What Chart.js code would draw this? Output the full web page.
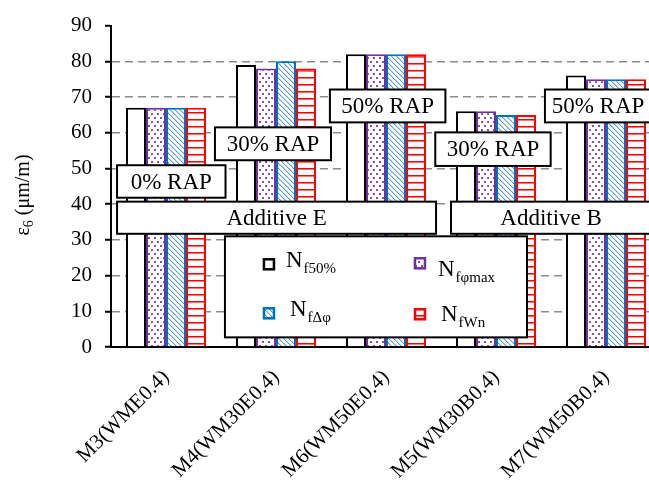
<!DOCTYPE html>
<html>
<head>
<meta charset="utf-8">
<script src="https://cdn.jsdelivr.net/npm/chart.js@4.4.1/dist/chart.umd.min.js"></script>
<style>
  html, body { margin: 0; padding: 0; background: #fff; overflow: hidden; }
  #wrap { width: 649px; height: 489px; overflow: hidden; position: relative; }
  canvas { display: block; }
</style>
</head>
<body>
<div id="wrap"><canvas id="c" width="680" height="489"></canvas></div>
<script>
// ---- data ----
const mixtures = ['M3(WME0.4)', 'M4(WM30E0.4)', 'M6(WM50E0.4)', 'M5(WM30B0.4)', 'M7(WM50B0.4)'];
const nf50      = [67, 79, 82, 66, 76];
const nfPhiMax  = [67, 78, 82, 66, 75];
const nfDeltaPhi= [67, 80, 82, 65, 75];
const nfWn      = [67, 78, 82, 65, 75];
const seriesSubscripts = ['f50%', 'fφmax', 'fΔφ', 'fWn'];
const yMin = 0, yMax = 90, yStep = 10;
const rapTexts = ['0% RAP', '30% RAP', '50% RAP', '30% RAP', '50% RAP'];
const additiveTexts = ['Additive E', 'Additive B'];

const SERIF = "'Liberation Serif', 'Times New Roman', serif";

// ---- fill patterns ----
function makePattern(w, h, draw) {
  const c = document.createElement('canvas');
  c.width = w; c.height = h;
  const g = c.getContext('2d');
  g.fillStyle = '#fff';
  g.fillRect(0, 0, w, h);
  draw(g);
  return g.createPattern(c, 'repeat');
}
const dotFill = makePattern(6, 8, g => {
  g.fillStyle = 'rgba(112,48,160,0.85)';
  g.fillRect(1, 1, 2, 2);
  g.fillRect(4, 5, 2, 2);
});
const diagFill = makePattern(5, 5, g => {
  for (let i = 0; i < 5; i++) {
    g.fillStyle = '#5B9BD5';
    g.fillRect(i, i, 1, 1);
    g.fillStyle = 'rgba(91,155,213,0.35)';
    g.fillRect((i + 1) % 5, i, 1, 1);
  }
});
const stripeFill = makePattern(4, 7, g => {
  g.fillStyle = '#FF0000';
  g.fillRect(0, 0, 4, 1);
  g.fillStyle = 'rgba(255,0,0,0.55)';
  g.fillRect(0, 1, 4, 1);
});

// ---- overlay: text boxes, legend panel, y-axis title ----
// box anchors in category-index / value units
const textBoxes = [
  { text: rapTexts[0], x0: -0.445, x1: 0.541, yTop: 50.9, yBot: 41.8 },
  { text: rapTexts[1], x0: 0.445,  x1: 1.50,  yTop: 61.5, yBot: 52.3 },
  { text: rapTexts[2], x0: 1.49,   x1: 2.54,  yTop: 72.1, yBot: 62.9 },
  { text: rapTexts[3], x0: 2.448,  x1: 3.497, yTop: 60.1, yBot: 50.7 },
  { text: rapTexts[4], x0: 3.445,  x1: 4.41,  yTop: 72.1, yBot: 62.9 },
  { text: additiveTexts[0], x0: -0.445, x1: 2.455, yTop: 40.7, yBot: 31.7 },
  { text: additiveTexts[1], x0: 2.591,  x1: 4.41,  yTop: 40.7, yBot: 31.7 }
];
const legendBox = { x0: 0.536, x1: 3.282, yTop: 31.0, yBot: 2.7 };
// item offsets inside the legend panel: icon corner, text start, baseline
const legendItems = [
  { ix: 38,  iy: 22, tx: 61,  ty: 31 },
  { ix: 189, iy: 21, tx: 213, ty: 40 },
  { ix: 38,  iy: 71, tx: 65,  ty: 80 },
  { ix: 189, iy: 72, tx: 216, ty: 85 }
];

const overlay = {
  id: 'overlay',
  afterDatasetsDraw(chart) {
    const ctx = chart.ctx;
    const xs = chart.scales.x, ys = chart.scales.y;
    ctx.save();
    // annotation boxes
    textBoxes.forEach(b => {
      const l = xs.getPixelForValue(b.x0), r = xs.getPixelForValue(b.x1);
      const t = ys.getPixelForValue(b.yTop), bt = ys.getPixelForValue(b.yBot);
      ctx.fillStyle = '#fff';
      ctx.fillRect(l, t, r - l, bt - t);
      ctx.strokeStyle = '#000';
      ctx.lineWidth = 2;
      ctx.strokeRect(l, t, r - l, bt - t);
      ctx.fillStyle = '#000';
      ctx.font = '23px ' + SERIF;
      ctx.textAlign = 'center';
      ctx.textBaseline = 'middle';
      ctx.fillText(b.text, (l + r) / 2, (t + bt) / 2 + 1);
    });
    // legend panel
    const L = xs.getPixelForValue(legendBox.x0), R = xs.getPixelForValue(legendBox.x1);
    const T = ys.getPixelForValue(legendBox.yTop), B = ys.getPixelForValue(legendBox.yBot);
    ctx.fillStyle = '#fff';
    ctx.fillRect(L, T, R - L, B - T);
    ctx.strokeStyle = '#000';
    ctx.lineWidth = 2;
    ctx.strokeRect(L, T, R - L, B - T);
    chart.data.datasets.forEach((ds, i) => {
      const it = legendItems[i];
      ctx.fillStyle = ds.backgroundColor;
      ctx.fillRect(L + it.ix, T + it.iy, 12, 12);
      ctx.strokeStyle = ds.borderColor;
      ctx.lineWidth = 2.5;
      ctx.strokeRect(L + it.ix + 1, T + it.iy + 1, 10, 10);
      ctx.fillStyle = '#000';
      ctx.textAlign = 'left';
      ctx.textBaseline = 'alphabetic';
      ctx.font = '23px ' + SERIF;
      ctx.fillText('N', L + it.tx, T + it.ty);
      const nW = ctx.measureText('N').width;
      ctx.font = '15px ' + SERIF;
      ctx.fillText(seriesSubscripts[i], L + it.tx + nW + 1, T + it.ty + 6);
    });
    ctx.restore();
  },
  afterDraw(chart) {
    // y-axis title: ε with subscript 6, then unit
    const ctx = chart.ctx;
    ctx.save();
    ctx.translate(24, 195);
    ctx.rotate(-Math.PI / 2);
    ctx.fillStyle = '#000';
    ctx.textBaseline = 'middle';
    ctx.textAlign = 'left';
    const main = '20px ' + SERIF, sub = '14px ' + SERIF;
    ctx.font = main; const w1 = ctx.measureText('ε').width;
    ctx.font = sub;  const w2 = ctx.measureText('6').width;
    ctx.font = main; const w3 = ctx.measureText(' (μm/m)').width;
    let x = -(w1 + w2 + w3) / 2;
    ctx.font = main; ctx.fillText('ε', x, 0); x += w1;
    ctx.font = sub;  ctx.fillText('6', x, 5); x += w2;
    ctx.font = main; ctx.fillText(' (μm/m)', x, 0);
    ctx.restore();
  }
};

new Chart(document.getElementById('c'), {
  type: 'bar',
  data: {
    labels: mixtures,
    datasets: [
      { label: 'N' + seriesSubscripts[0], data: nf50,       backgroundColor: '#ffffff', borderColor: '#000000' },
      { label: 'N' + seriesSubscripts[1], data: nfPhiMax,   backgroundColor: dotFill,   borderColor: '#7030A0' },
      { label: 'N' + seriesSubscripts[2], data: nfDeltaPhi, backgroundColor: diagFill,  borderColor: '#0070C0' },
      { label: 'N' + seriesSubscripts[3], data: nfWn,       backgroundColor: stripeFill, borderColor: '#FF0000' }
    ]
  },
  options: {
    responsive: false,
    animation: false,
    devicePixelRatio: 1,
    layout: { padding: { top: 22, right: 19, left: 0, bottom: 0 } },
    datasets: { bar: { categoryPercentage: 80 / 110, barPercentage: 1, borderWidth: 2, borderSkipped: 'start' } },
    plugins: { legend: { display: false }, tooltip: { enabled: false } },
    scales: {
      x: {
        grid: { display: false, drawTicks: false },
        border: { color: '#000', width: 2 },
        ticks: { color: '#000', font: { family: SERIF, size: 21 }, minRotation: 45, maxRotation: 45, padding: 18 },
        afterFit(s) { s.height = 142; }
      },
      y: {
        min: yMin, max: yMax,
        ticks: { stepSize: yStep, color: '#000', font: { family: SERIF, size: 21 }, padding: 13 },
        grid: {
          color: c => (c.tick && (c.tick.value === yMax || c.tick.value === yMin)) ? 'rgba(0,0,0,0)' : '#8c8c8c',
          lineWidth: 1.5,
          tickColor: '#000',
          tickWidth: 2,
          tickLength: 6,
          tickBorderDash: []
        },
        border: { color: '#000', width: 2, dash: [8, 5] },
        afterFit(s) { s.width = 111; }
      }
    }
  },
  plugins: [overlay]
});
</script>
</body>
</html>
